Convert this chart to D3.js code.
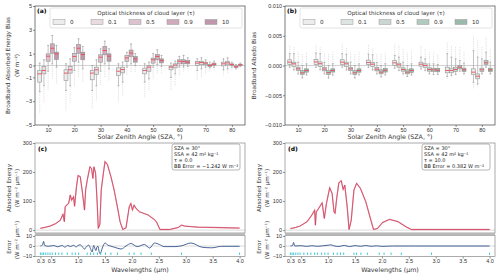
<!DOCTYPE html>
<html>
<head>
<meta charset="utf-8">
<script src="https://cdn.jsdelivr.net/npm/d3@7"></script>
<style>
body { margin: 0; background: #fff; }
svg { font-family: 'DejaVu Sans', sans-serif; }
.tick text { fill: #333; }
</style>
</head>
<body>
<div class="chart"></div>
<script>
// ---- data ----
const sza = [10, 20, 30, 40, 50, 60, 70, 80];
const tauLabels = ['0', '0.1', '0.5', '0.9', '10'];

// each row: [low flier, low whisker, q1, median, q3, high whisker, high flier]
const energyTau0 = [[-4.05,-2.2,-1.4,-0.7,-0.42,0.2,0.3],[-3.8,-2.1,-1.26,-0.64,-0.36,0.14,0.25],[-3.64,-2.1,-1.2,-0.64,-0.42,0.0,0.1],[-3.1,-1.7,-0.84,-0.48,-0.2,0.14,0.2],[-2.66,-1.4,-0.7,-0.42,-0.22,0.14,0.2],[-2.1,-1.0,-0.36,-0.14,-0.06,0.2,0.3],[-1.26,-0.42,0.0,0.2,0.34,0.56,0.7],[-0.84,-0.36,-0.03,0.14,0.28,0.56,0.7]];
const energyTau01 = [[-3.1,-1.7,-0.7,-0.42,-0.08,0.48,0.6],[-3.1,-1.7,-0.64,-0.36,-0.08,0.56,0.7],[-2.94,-1.7,-0.76,-0.36,-0.14,0.48,0.6],[-2.5,-1.4,-0.62,-0.34,-0.14,0.28,0.4],[-2.1,-1.12,-0.48,-0.14,0.0,0.28,0.4],[-1.7,-0.7,-0.2,0.03,0.14,0.36,0.5],[-1.0,-0.28,0.08,0.25,0.36,0.64,0.8],[-0.7,-0.28,0.06,0.22,0.36,0.64,0.75]];
const energyTau05 = [[-2.1,-0.48,0.36,0.78,0.98,1.68,1.8],[-1.8,-0.42,0.36,0.76,1.0,1.5,1.6],[-1.7,-0.48,0.28,0.7,0.9,1.4,1.5],[-0.84,-0.14,0.35,0.64,0.84,1.1,1.2],[-1.12,-0.14,0.2,0.48,0.62,1.0,1.1],[-0.84,-0.14,0.14,0.36,0.48,0.76,0.85],[-0.7,-0.14,0.06,0.2,0.28,0.48,0.55],[-0.42,-0.14,0.0,0.08,0.14,0.28,0.32]];
const energyTau09 = [[-1.1,0.14,1.03,1.45,1.82,2.52,2.6],[-1.0,0.28,1.03,1.45,1.76,2.24,2.3],[-1.0,0.14,0.9,1.26,1.6,2.04,2.1],[-0.56,0.14,0.75,1.05,1.3,1.8,1.9],[-0.7,0.08,0.48,0.76,0.92,1.32,1.4],[-0.56,-0.14,0.14,0.34,0.48,0.84,0.9],[-0.42,-0.2,-0.08,0.0,0.08,0.28,0.32],[-0.42,-0.28,-0.17,-0.11,-0.03,0.08,0.1]];
const energyTau10 = [[-1.54,-0.14,0.5,0.98,1.12,1.68,1.75],[-1.4,-0.28,0.48,0.92,1.12,1.6,1.65],[-1.26,-0.28,0.36,0.78,0.98,1.4,1.45],[-0.56,0.0,0.28,0.56,0.76,1.0,1.05],[-0.7,-0.08,0.22,0.42,0.56,0.84,0.9],[-0.42,-0.08,0.14,0.28,0.42,0.64,0.7],[-0.36,-0.14,0.03,0.11,0.2,0.36,0.4],[-0.2,-0.08,0.0,0.06,0.11,0.2,0.22]];

// albedo bias, in units of 0.001
const albedoTau0 = [[-0.6,-0.28,0.17,0.56,0.96,2.0,3.5],[-0.6,-0.3,0.2,0.6,1.0,2.1,3.6],[-0.6,-0.28,0.17,0.56,0.96,2.0,3.7],[-0.6,-0.3,0.14,0.5,0.9,1.9,3.5],[-0.7,-0.45,0.0,0.45,0.84,1.7,3.6],[-0.8,-0.56,-0.11,0.22,0.56,1.4,3.4],[-2.3,-1.85,-1.23,-0.84,-0.28,2.0,3.9],[-3.9,-2.8,-1.5,-1.12,-0.56,2.5,5.0]];
const albedoTau01 = [[-1.0,-0.73,-0.17,0.28,0.56,2.0,3.1],[-1.0,-0.7,-0.14,0.3,0.6,2.0,3.2],[-1.0,-0.73,-0.17,0.28,0.56,1.9,3.1],[-1.0,-0.75,-0.2,0.22,0.5,1.8,3.0],[-1.1,-0.84,-0.28,0.11,0.39,1.4,3.4],[-1.1,-0.84,-0.34,0.0,0.28,1.12,2.8],[-2.0,-1.68,-1.23,-0.84,-0.45,1.4,3.4],[-3.6,-3.1,-2.24,-1.8,-1.4,1.4,4.2]];
const albedoTau05 = [[-1.6,-1.4,-0.84,-0.56,-0.28,0.56,2.2],[-1.6,-1.4,-0.9,-0.6,-0.3,0.5,2.1],[-1.6,-1.4,-0.84,-0.56,-0.28,0.56,2.2],[-1.6,-1.4,-0.9,-0.62,-0.34,0.5,2.0],[-1.6,-1.4,-0.95,-0.67,-0.39,0.56,2.8],[-1.6,-1.4,-0.95,-0.67,-0.39,0.28,2.2],[-1.7,-1.5,-1.0,-0.67,-0.28,1.12,3.1],[-1.6,-1.4,-1.0,-0.73,-0.45,1.12,3.1]];
const albedoTau09 = [[-2.3,-2.07,-1.5,-1.23,-0.84,0.0,2.0],[-2.3,-2.1,-1.5,-1.2,-0.84,0.0,2.0],[-2.3,-2.07,-1.5,-1.23,-0.84,0.0,2.1],[-2.1,-1.9,-1.4,-1.12,-0.73,0.0,2.0],[-2.1,-1.85,-1.4,-1.12,-0.73,0.0,2.2],[-1.7,-1.5,-1.0,-0.73,-0.45,0.28,2.2],[-1.1,-0.95,-0.56,-0.28,0.0,0.84,3.1],[-0.4,-0.28,0.17,0.45,0.84,2.24,4.76]];
const albedoTau10 = [[-1.8,-1.57,-1.12,-0.84,-0.56,0.28,2.2],[-1.8,-1.6,-1.1,-0.84,-0.56,0.3,2.2],[-1.8,-1.57,-1.12,-0.84,-0.56,0.28,2.3],[-1.8,-1.57,-1.1,-0.8,-0.5,0.3,2.2],[-1.8,-1.57,-1.18,-0.84,-0.56,0.28,2.5],[-1.7,-1.5,-1.06,-0.78,-0.5,0.17,2.0],[-1.6,-1.4,-1.0,-0.73,-0.45,0.39,2.5],[-1.6,-1.4,-1.0,-0.73,-0.45,0.56,2.8]];

const energyTicks = [-5, -3, -1, 0, 1, 3, 5];
const albedoTicks = [-10, -5, 0, 5, 10];

// spectra (tau = 0 and tau = 10)
const wavelengthC = [0.30,0.40,0.48,0.58,0.67,0.72,0.745,0.76,0.80,0.825,0.855,0.88,0.915,0.935,0.97,1.00,1.04,1.075,1.105,1.12,1.14,1.17,1.22,1.25,1.275,1.295,1.325,1.355,1.375,1.405,1.43,1.47,1.50,1.545,1.61,1.67,1.73,1.78,1.83,1.89,1.95,1.98,2.01,2.04,2.075,2.14,2.30,2.42,2.46,2.52,2.70,2.86,2.92,2.98,3.10,3.23,3.55,4.00];
const absorbedC = [6,10,14,22,34,55,29,80,88,92,121,103,115,82,149,188,184,138,92,69,138,172,218,212,178,218,196,92,6,20,138,196,236,226,184,138,80,29,2,8,80,92,69,86,75,63,52,36,27,2,2,9,17,14,12,10,9,7];
const wavelengthD = [0.30,0.40,0.48,0.61,0.70,0.75,0.765,0.78,0.825,0.89,0.93,0.97,1.03,1.075,1.11,1.13,1.16,1.20,1.245,1.28,1.31,1.355,1.39,1.43,1.48,1.53,1.60,1.70,1.795,1.845,1.92,2.01,2.14,2.30,2.45,2.55,3.00,4.00];
const absorbedD = [5,9,14,29,52,69,17,62,75,94,40,92,146,126,63,58,109,163,170,140,155,80,2,34,138,161,144,98,34,2,6,26,37,29,11,2,2,2];

const errWavelengthC = [0.30,0.34,0.36,0.38,0.45,0.55,0.62,0.70,0.76,0.80,0.86,0.92,0.96,1.00,1.04,1.08,1.12,1.15,1.20,1.23,1.26,1.29,1.31,1.33,1.35,1.37,1.39,1.41,1.45,1.50,1.55,1.60,1.67,1.72,1.80,1.89,1.98,2.10,2.23,2.33,2.42,2.51,2.60,2.80,2.92,3.10,3.30,3.48,3.67,4.00];
const errorC = [0,1,4.6,0.5,-0.3,0.5,-0.8,0.5,-1.2,0.6,-0.5,0.8,-1.0,0.5,1.2,-0.8,-3.2,-1,0.8,-2.5,-6,0.6,-2,-4.6,-1,-0.3,-5.5,-7.7,-2,3,1,0,-1.2,-2,-3,0,2.5,-0.6,1.5,-2,3,1.5,-0.6,-0.6,0.2,3,-1.2,-1.8,-0.3,-0.3];
const errWavelengthD = [0.30,0.34,0.36,0.38,0.50,0.60,0.70,0.80,0.90,1.00,1.05,1.10,1.20,1.30,1.40,1.50,1.60,1.70,1.80,1.90,2.00,2.20,2.50,4.00];
const errorD = [0,0.5,3.5,0,0.3,-0.4,0.3,-0.3,0.2,0.8,1.2,0.3,-0.5,0.6,-0.6,0.4,-0.3,0.5,-0.3,0.2,-0.4,0,0,0];

const bandEdgesC = [0.3,0.33,0.36,0.4,0.44,0.48,0.52,0.58,0.64,0.7,0.8,0.89,0.95,1.01,1.17,1.23,1.29,1.36,1.42,1.51,1.61,1.73,1.95,2.04,2.17,2.36,2.92,4.0];
const bandEdgesD = [0.3,0.33,0.36,0.4,0.44,0.48,0.55,0.62,0.68,0.75,0.8,0.88,0.94,1.0,1.1,1.17,1.23,1.29,1.48,1.53,1.61,1.73,1.95,2.04,2.17,2.36,2.92,4.0];
const wlTicks = [0.3, 0.5, 1.0, 1.5, 2.0, 2.5, 3.0, 3.5, 4.0];

const energyColors = ['#ececec', '#e8dbe1', '#dcc2ce', '#cfaabb', '#c197ab'];
const albedoColors = ['#ececec', '#dde4e1', '#c9d7d0', '#b2c9be', '#9bbaac'];

// ---- drawing ----
const svg = d3.select('.chart')
    .append('svg')
    .attr('width', 500)
    .attr('height', 278);

const minus = s => String(s).replace('-', '\u2212');
const tauOffsets = [-3.2, -1.6, 0, 1.6, 3.2];

function styleAxis(g) {
    g.selectAll('.domain').remove();
    g.selectAll('.tick line').attr('stroke', '#444').attr('stroke-width', 0.6);
    g.selectAll('.tick text').attr('font-size', 5.5);
}

function boxPanel(left, series, colors, yDomain, yTicks, yFmt, tag, ylabels) {
    const top = 6, bottom = 125, right = left + 210;
    const x = d3.scaleLinear().domain([5, 85]).range([left, right]);
    const y = d3.scaleLinear().domain(yDomain).range([bottom, top]);
    const g = svg.append('g');

    g.append('line')
        .attr('x1', left).attr('x2', right)
        .attr('y1', y(0)).attr('y2', y(0))
        .attr('stroke', '#c8c8c8').attr('stroke-width', 0.8);

    const bw = x(1.5) - x(0);
    series.forEach((rows, i) => {
        rows.forEach((d, j) => {
            const cx = x(sza[j] + tauOffsets[i]);
            // fliers
            [[d[1], d[0]], [d[5], d[6]]].forEach(p => {
                g.append('line')
                    .attr('x1', cx).attr('x2', cx)
                    .attr('y1', y(p[0])).attr('y2', y(p[1]))
                    .attr('stroke', '#c2c2c2').attr('stroke-width', 0.7)
                    .attr('stroke-dasharray', '0.7,1.1');
            });
            // whiskers
            [[d[2], d[1]], [d[4], d[5]]].forEach(p => {
                g.append('line')
                    .attr('x1', cx).attr('x2', cx)
                    .attr('y1', y(p[0])).attr('y2', y(p[1]))
                    .attr('stroke', '#999').attr('stroke-width', 0.6);
                g.append('line')
                    .attr('x1', cx - bw / 4).attr('x2', cx + bw / 4)
                    .attr('y1', y(p[1])).attr('y2', y(p[1]))
                    .attr('stroke', '#999').attr('stroke-width', 0.6);
            });
            g.append('rect')
                .attr('x', cx - bw / 2).attr('y', y(d[4]))
                .attr('width', bw).attr('height', Math.max(0.8, y(d[2]) - y(d[4])))
                .attr('fill', colors[i])
                .attr('stroke', '#8f8f8f').attr('stroke-width', 0.6);
            g.append('line')
                .attr('x1', cx - bw / 2).attr('x2', cx + bw / 2)
                .attr('y1', y(d[3])).attr('y2', y(d[3]))
                .attr('stroke', '#ee4a55').attr('stroke-width', 0.9);
        });
    });

    const xAxis = d3.axisBottom(x).tickValues(sza).tickSize(2).tickPadding(1);
    g.append('g').attr('transform', 'translate(0,' + bottom + ')').call(xAxis).call(styleAxis);
    const yAxis = d3.axisLeft(y).tickValues(yTicks).tickSize(2).tickPadding(1).tickFormat(yFmt);
    g.append('g').attr('transform', 'translate(' + left + ',0)').call(yAxis).call(styleAxis);

    g.append('rect')
        .attr('x', left).attr('y', top)
        .attr('width', right - left).attr('height', bottom - top)
        .attr('fill', 'none').attr('stroke', '#444').attr('stroke-width', 0.7);

    // legend
    const lg = g.append('g').attr('transform', 'translate(' + (left + 15) + ',8)');
    lg.append('rect')
        .attr('width', 192).attr('height', 20).attr('rx', 2)
        .attr('fill', '#fff').attr('fill-opacity', 0.85)
        .attr('stroke', '#d0d0d0').attr('stroke-width', 0.6);
    lg.append('text')
        .attr('x', 96).attr('y', 7.3)
        .attr('text-anchor', 'middle').attr('font-size', 5.6).attr('fill', '#333')
        .text('Optical thickness of cloud layer (\u03c4)');
    tauLabels.forEach((t, i) => {
        lg.append('rect')
            .attr('x', 3 + i * 38).attr('y', 11.5)
            .attr('width', 12).attr('height', 5)
            .attr('fill', colors[i]).attr('stroke', '#9a9a9a').attr('stroke-width', 0.5);
        lg.append('text')
            .attr('x', 20 + i * 38).attr('y', 16.3)
            .attr('font-size', 5.6).attr('fill', '#333')
            .text(t);
    });

    g.append('text')
        .attr('x', left + 2).attr('y', 13)
        .attr('font-size', 6).attr('font-weight', 'bold')
        .text(tag);

    g.append('text')
        .attr('x', (left + right) / 2).attr('y', 139)
        .attr('text-anchor', 'middle').attr('font-size', 6.3).attr('fill', '#333')
        .text('Solar Zenith Angle (SZA, \u00b0)');

    ylabels.forEach(lab => {
        g.append('text')
            .attr('transform', 'translate(' + lab[1] + ',' + ((top + bottom) / 2) + ') rotate(-90)')
            .attr('text-anchor', 'middle').attr('font-size', 5.8).attr('fill', '#333')
            .text(lab[0]);
    });
}

function spectrumPanel(left, wl, val, errWl, err, edges, tag, infoLines) {
    const right = left + 210;
    const mTop = 143, mBottom = 233, eTop = 235.5, eBottom = 256.5;
    const x = d3.scaleLinear().domain([0.2, 4.1]).range([left, right]);
    const y = d3.scaleLinear().domain([-10, 300]).range([mBottom, mTop]);
    const ye = d3.scaleLinear().domain([-10.5, 10.5]).range([eBottom, eTop]);
    const g = svg.append('g');

    g.append('line').attr('x1', left).attr('x2', right).attr('y1', y(0)).attr('y2', y(0))
        .attr('stroke', '#d0d0d0').attr('stroke-width', 0.8);
    g.append('line').attr('x1', left).attr('x2', right).attr('y1', ye(0)).attr('y2', ye(0))
        .attr('stroke', '#d0d0d0').attr('stroke-width', 0.8);

    const spec = wl.map((w, i) => [w, val[i]]);
    const line = d3.line().x(d => x(d[0])).y(d => y(d[1]));
    g.append('path').datum(spec).attr('d', line)
        .attr('fill', 'none').attr('stroke', '#e9a3b1').attr('stroke-width', 1.3);
    g.append('path').datum(spec).attr('d', line)
        .attr('fill', 'none').attr('stroke', '#cc3553').attr('stroke-width', 0.7);

    const errData = errWl.map((w, i) => [w, err[i]]);
    g.append('path').datum(errData)
        .attr('d', d3.line().x(d => x(d[0])).y(d => ye(d[1])).curve(d3.curveMonotoneX))
        .attr('fill', 'none').attr('stroke', '#34558b').attr('stroke-width', 0.9);

    edges.forEach(w => {
        g.append('line')
            .attr('x1', x(w)).attr('x2', x(w))
            .attr('y1', eBottom - 4).attr('y2', eBottom - 1.5)
            .attr('stroke', '#2ec4d0').attr('stroke-width', 0.9);
    });

    const yAxis = d3.axisLeft(y).tickValues([0, 100, 200, 300]).tickSize(2).tickPadding(1);
    g.append('g').attr('transform', 'translate(' + left + ',0)').call(yAxis).call(styleAxis);
    const eAxis = d3.axisLeft(ye).tickValues([-10, 0, 10]).tickSize(2).tickPadding(1).tickFormat(minus);
    g.append('g').attr('transform', 'translate(' + left + ',0)').call(eAxis).call(styleAxis);
    const xAxis = d3.axisBottom(x).tickValues(wlTicks).tickSize(2).tickPadding(1).tickFormat(d3.format('.1f'));
    g.append('g').attr('transform', 'translate(0,' + eBottom + ')').call(xAxis).call(styleAxis);

    g.append('rect').attr('x', left).attr('y', mTop).attr('width', right - left).attr('height', mBottom - mTop)
        .attr('fill', 'none').attr('stroke', '#888').attr('stroke-width', 0.7);
    g.append('rect').attr('x', left).attr('y', eTop).attr('width', right - left).attr('height', eBottom - eTop)
        .attr('fill', 'none').attr('stroke', '#888').attr('stroke-width', 0.7);
    g.append('rect').attr('x', left).attr('y', mBottom).attr('width', right - left).attr('height', eTop - mBottom)
        .attr('fill', '#b9b9b9');

    g.append('text').attr('x', left + 3).attr('y', 151)
        .attr('font-size', 6).attr('font-weight', 'bold').text(tag);

    const bx = right - 73, by = 144;
    g.append('rect').attr('x', bx).attr('y', by).attr('width', 68).attr('height', 26).attr('rx', 2)
        .attr('fill', '#fff').attr('stroke', '#999').attr('stroke-width', 0.7);
    infoLines.forEach((t, k) => {
        g.append('text').attr('x', bx + 2).attr('y', by + 6 + k * 6)
            .attr('font-size', 5).attr('fill', '#222').text(t);
    });

    g.append('text').attr('x', (left + right) / 2).attr('y', 272)
        .attr('text-anchor', 'middle').attr('font-size', 6.3).attr('fill', '#333')
        .text('Wavelengths (\u00b5m)');

    const lab = (t, lx, ly) => g.append('text')
        .attr('transform', 'translate(' + lx + ',' + ly + ') rotate(-90)')
        .attr('text-anchor', 'middle').attr('font-size', 5.6).attr('fill', '#333').text(t);
    lab('Absorbed Energy', left - 24, 188);
    lab('(W m\u207b\u00b2 \u00b5m\u207b\u00b9)', left - 16, 188);
    lab('Error', left - 24, 247);
    lab('(W m\u207b\u00b2 \u00b5m\u207b\u00b9)', left - 16, 240);
}

boxPanel(35, [energyTau0, energyTau01, energyTau05, energyTau09, energyTau10], energyColors,
    [-5, 5], energyTicks, minus, '(a)',
    [['Broadband Absorbed Energy Bias', 10], ['(W m\u207b\u00b2)', 19]]);
boxPanel(285, [albedoTau0, albedoTau01, albedoTau05, albedoTau09, albedoTau10], albedoColors,
    [-10, 10], albedoTicks, d => minus((d / 1000).toFixed(3)), '(b)',
    [['Broadband Albedo Bias', 256]]);

spectrumPanel(35, wavelengthC, absorbedC, errWavelengthC, errorC, bandEdgesC, '(c)',
    ['SZA = 30\u00b0', 'SSA = 42 m\u00b2 kg\u207b\u00b9', '\u03c4 = 0.0', 'BB Error = \u22121.242 W m\u207b\u00b2']);
spectrumPanel(285, wavelengthD, absorbedD, errWavelengthD, errorD, bandEdgesD, '(d)',
    ['SZA = 30\u00b0', 'SSA = 42 m\u00b2 kg\u207b\u00b9', '\u03c4 = 10.0', 'BB Error = 0.382 W m\u207b\u00b2']);
</script>
</body>
</html>
